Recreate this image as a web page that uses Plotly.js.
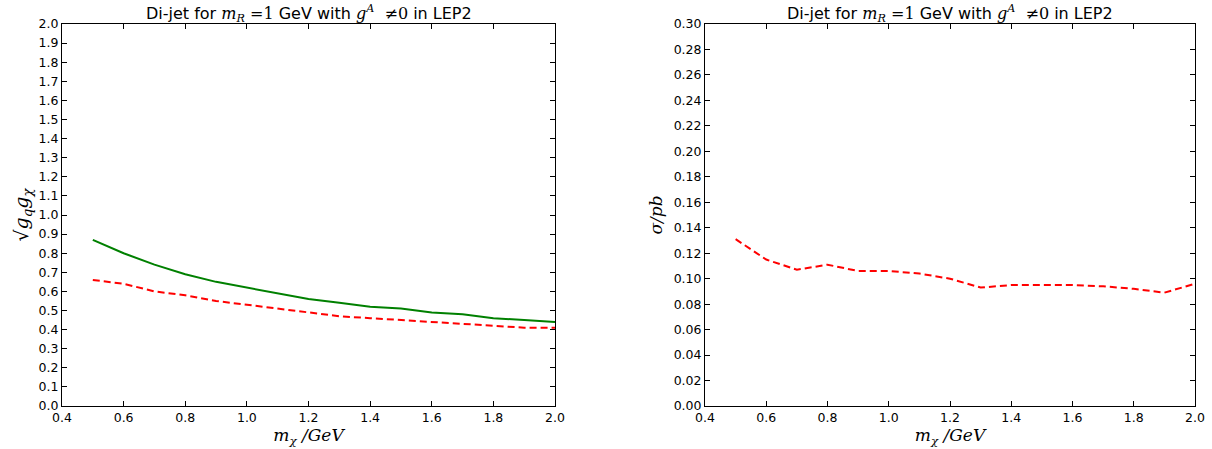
<!DOCTYPE html>
<html><head><meta charset="utf-8">
<script src="https://cdn.plot.ly/plotly-3.0.1.min.js"></script>
<style>html,body{margin:0;padding:0;background:#fff}#c{width:1212px;height:449px}</style>
</head><body><div id="c"></div>
<script>
const mChi = [0.5,0.6,0.7,0.8,0.9,1.0,1.1,1.2,1.3,1.4,1.5,1.6,1.7,1.8,1.9,2.0];
const couplingGreen = [0.87,0.80,0.74,0.69,0.65,0.62,0.59,0.56,0.54,0.52,0.51,0.49,0.48,0.46,0.45,0.44];
const couplingRed = [0.66,0.64,0.60,0.58,0.55,0.53,0.51,0.49,0.47,0.46,0.45,0.44,0.43,0.42,0.41,0.41];
const sigmaRed = [0.131,0.115,0.107,0.111,0.106,0.106,0.104,0.100,0.093,0.095,0.095,0.095,0.094,0.092,0.089,0.096];
const titleText = 'Di-jet for <span style="font-family:DejaVu Serif"><i>m</i><sub><i>R</i></sub> =1</span> GeV with <span style="font-family:DejaVu Serif"><i>g</i><sup><i>A</i></sup>  ≠0</span> in LEP2';

const dashPat = '7px,4px';
const traces = [
  {x:mChi, y:couplingGreen, xaxis:'x', yaxis:'y', mode:'lines', line:{color:'#008000', width:2}},
  {x:mChi, y:couplingRed, xaxis:'x', yaxis:'y', mode:'lines', line:{color:'#ff0000', width:2, dash:dashPat}},
  {x:mChi, y:sigmaRed, xaxis:'x2', yaxis:'y2', mode:'lines', line:{color:'#ff0000', width:2, dash:dashPat}}
];
const H = 449, W = 1212;
const common = {showgrid:false, zeroline:false, showline:true, linecolor:'#000', linewidth:1, mirror:'ticks',
  ticks:'inside', ticklen:5, tickwidth:1, tickcolor:'#000', tickfont:{family:'DejaVu Sans', size:12.5, color:'#000'}};
const xdef = (dom) => Object.assign({}, common, {domain:dom, range:[0.4,2.0], dtick:0.2, tick0:0.4, tickformat:'.1f',
  title:{text:'<i>m</i><sub><i>χ</i></sub><i> /GeV</i>', font:{family:'DejaVu Serif', size:17, color:'#000'}, standoff:5}});
const yDom = [1-406/H, 1-24/H];
const layout = {
  width:W, height:H, margin:{l:0,r:0,t:0,b:0}, showlegend:false,
  paper_bgcolor:'#fff', plot_bgcolor:'#fff',
  xaxis: xdef([62/W, 555/W]),
  xaxis2: Object.assign(xdef([705/W, 1195/W]), {anchor:'y2'}),
  yaxis: Object.assign({}, common, {domain:yDom, range:[0,2.0], dtick:0.1, tick0:0, tickformat:'.1f', anchor:'x',
    title:{text:'√<i>g</i><sub><i>q</i></sub><i>g</i><sub><i>χ</i></sub>', font:{family:'DejaVu Serif', size:19, color:'#000'}, standoff:4}}),
  yaxis2: Object.assign({}, common, {domain:yDom, range:[0,0.30], dtick:0.02, tick0:0, tickformat:'.2f', anchor:'x2',
    title:{text:'<i>σ/pb</i>', font:{family:'DejaVu Serif', size:17, color:'#000'}, standoff:6}}),
  annotations:[
    {text:titleText, xref:'paper', yref:'paper', x:(62+555)/2/W, y:1-13/H, xanchor:'center', yanchor:'middle', showarrow:false, font:{family:'DejaVu Sans', size:16, color:'#000'}},
    {text:titleText, xref:'paper', yref:'paper', x:(705+1195)/2/W, y:1-13/H, xanchor:'center', yanchor:'middle', showarrow:false, font:{family:'DejaVu Sans', size:16, color:'#000'}}
  ]
};
Plotly.newPlot('c', traces, layout, {staticPlot:true, displayModeBar:false});
</script></body></html>
